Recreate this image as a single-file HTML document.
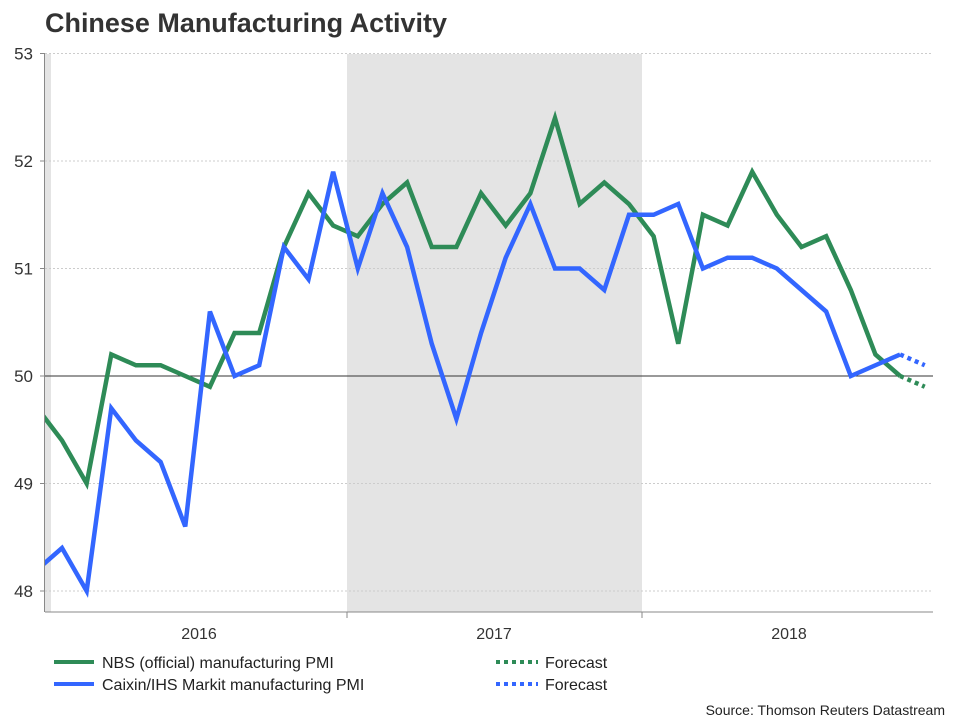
<!DOCTYPE html>
<html><head><meta charset="utf-8"><style>
body{margin:0;background:#fff;font-family:"Liberation Sans",Arial,sans-serif}
svg text{font-family:"Liberation Sans",Arial,sans-serif}
</style></head><body>
<svg id="c" width="960" height="720">
<text x="45" y="32" font-size="27" font-weight="bold" fill="#333" textLength="402" lengthAdjust="spacingAndGlyphs">Chinese Manufacturing Activity</text>
<g id="plot"></g>
<g>
<line x1="54" y1="662" x2="94" y2="662" stroke="#2e8b57" stroke-width="4"/>
<text x="102" y="668" font-size="16" fill="#222">NBS (official) manufacturing PMI</text>
<line x1="54" y1="684" x2="94" y2="684" stroke="#3366ff" stroke-width="4"/>
<text x="102" y="690" font-size="16" fill="#222">Caixin/IHS Markit manufacturing PMI</text>
<line x1="496" y1="662" x2="538" y2="662" stroke="#2e8b57" stroke-width="4" stroke-dasharray="4,4"/>
<text x="545" y="668" font-size="16" fill="#222">Forecast</text>
<line x1="496" y1="684" x2="538" y2="684" stroke="#3366ff" stroke-width="4" stroke-dasharray="4,4"/>
<text x="545" y="690" font-size="16" fill="#222">Forecast</text>
</g>
<text x="945" y="715" font-size="14" fill="#222" text-anchor="end">Source: Thomson Reuters Datastream</text>
</svg>
<script>
// index 0 = Dec 2015 ... index 36 = Dec 2018 (forecast)
const nbs = [49.7,49.4,49.0,50.2,50.1,50.1,50.0,49.9,50.4,50.4,51.2,51.7,51.4,51.3,51.6,51.8,51.2,51.2,51.7,51.4,51.7,52.4,51.6,51.8,51.6,51.3,50.3,51.5,51.4,51.9,51.5,51.2,51.3,50.8,50.2,50.0];
const nbsForecast = [50.0,49.9];
const caixin = [48.2,48.4,48.0,49.7,49.4,49.2,48.6,50.6,50.0,50.1,51.2,50.9,51.9,51.0,51.7,51.2,50.3,49.6,50.4,51.1,51.6,51.0,51.0,50.8,51.5,51.5,51.6,51.0,51.1,51.1,51.0,50.8,50.6,50.0,50.1,50.2];
const caixinForecast = [50.2,50.1];
const yTicks = [48,49,50,51,52,53];
const years = ["2016","2017","2018"];
const NS="http://www.w3.org/2000/svg";
const L=45,R=933,T=54,B=612;
const y=v=>376-(v-50)*107.5;
const mw=24.65;
const x=i=>62+(i-1)*mw;
const g=document.getElementById('plot');
function mk(t,a,p){const e=document.createElementNS(NS,t);for(const k in a)e.setAttribute(k,a[k]);(p||g).appendChild(e);return e;}
const cp=mk('clipPath',{id:'cl'});mk('rect',{x:L,y:0,width:R-L,height:B},cp);
mk('rect',{x:L,y:T,width:6,height:B-T,fill:'#e4e4e4'});
const shade=mk('rect',{x:347,y:T,width:295,height:B-T,fill:'#e4e4e4'});


yTicks.forEach(v=>{
 if(v!==50){const gl=mk('line',{x1:L,x2:R,y1:y(v),y2:y(v),stroke:'#ccc','stroke-dasharray':'2,2'});
 }
 mk('line',{x1:L-5,x2:L,y1:y(v),y2:y(v),stroke:'#888'});
 const t=mk('text',{x:L-12,y:y(v)+6,'text-anchor':'end','font-size':17,fill:'#333'});t.textContent=v;
 
});
const zl=mk('line',{x1:L,x2:R,y1:y(50),y2:y(50),stroke:'#333','stroke-width':1});

mk('line',{x1:L-0.5,x2:L-0.5,y1:T,y2:B,stroke:'#888'});
mk('line',{x1:L,x2:R,y1:B,y2:B,stroke:'#888'});
years.forEach((yr,i)=>{
 const x0=52+i*295;
 if(i>0)mk('line',{x1:x0,x2:x0,y1:B,y2:B+6,stroke:'#888'});
 const t=mk('text',{x:x0+147,y:B+27,'text-anchor':'middle','font-size':16,fill:'#333'});t.textContent=yr;
 
});
function line(arr,start,col,dash,name){
 const p=mk('polyline',{points:arr.map((v,i)=>x(start+i)+','+y(v)).join(' '),fill:'none',stroke:col,'stroke-width':4.5,'stroke-linejoin':'miter','clip-path':'url(#cl)'});
 if(dash)p.setAttribute('stroke-dasharray','4,4');
 
}
line(nbs,0,'#2e8b57',false,'series-nbs');
line(nbsForecast,nbs.length-1,'#2e8b57',true,'series-nbs-forecast');
line(caixin,0,'#3366ff',false,'series-caixin');
line(caixinForecast,caixin.length-1,'#3366ff',true,'series-caixin-forecast');
</script>
</body></html>
